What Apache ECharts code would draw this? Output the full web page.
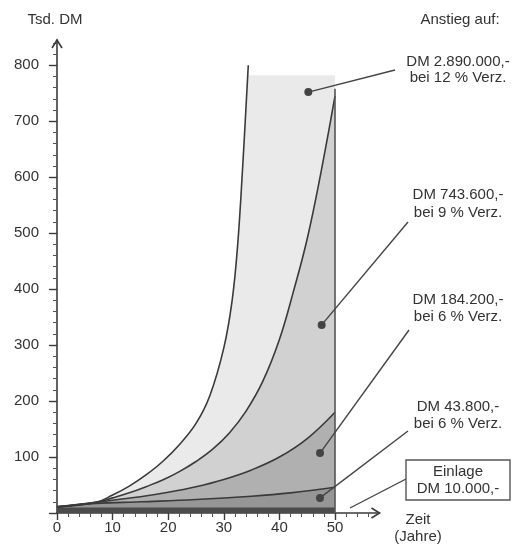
<!DOCTYPE html>
<html><head><meta charset="utf-8">
<script src="https://cdn.jsdelivr.net/npm/echarts@6/dist/echarts.min.js"></script>
<style>html,body{margin:0;padding:0;background:#fff}#c{width:515px;height:545px}</style>
</head><body><div id="c"></div>
<script>
// ---- data (years, Tsd. DM) ----
const years12 = [0, 7, 10, 13, 16, 19, 22, 25, 27.5, 30, 31.5, 32.5, 33.4, 34.4];
const vals12  = [11, 19, 32, 48, 68, 92, 122, 160, 210, 295, 380, 480, 620, 800];
const years9  = [0, 7, 10, 13, 16, 19, 22, 25, 28, 31, 34, 37, 40, 42.5, 45, 47.5, 50];
const vals9   = [11, 19, 27, 36, 47, 59, 74, 92, 114, 143, 182, 235, 310, 395, 490, 610, 745];
const years6  = [0, 7, 11, 15, 20, 25, 30, 35, 40, 45, 50];
const vals6   = [11, 19, 24, 29, 37, 47, 60, 77, 100, 133, 180];
const years3  = [0, 7, 15, 25, 35, 42, 50];
const vals3   = [11, 17, 20, 24, 30, 36, 46];
const yearsBase = [0, 50];
const valsBase  = [10, 10];
const shadeYears = [34.2, 50];
const shadeVals  = [782, 782];
const borderLine = [[50, 0], [50, 758]];
// annotation dots [year, value]
const dots = [[45.2, 752], [47.6, 336], [47.3, 107], [47.3, 27]];
const labelTexts = [
  ['DM 2.890.000,-', 'bei 12 % Verz.'],
  ['DM 743.600,-', 'bei 9 % Verz.'],
  ['DM 184.200,-', 'bei 6 % Verz.'],
  ['DM 43.800,-', 'bei 6 % Verz.']
];
const einlageText = ['Einlage', 'DM 10.000,-'];
const xTickValues = [0, 10, 20, 30, 40, 50];
const yTickValues = [0, 100, 200, 300, 400, 500, 600, 700, 800];
const yLabelValues = [100, 200, 300, 400, 500, 600, 700, 800];
const yTitle = 'Tsd. DM';
const rightTitle = 'Anstieg auf:';
const xTitle = ['Zeit', '(Jahre)'];

const zip = (a, b) => a.map((x, i) => [x, b[i]]);
const FONT = '"Liberation Sans", Arial, sans-serif';
const TXT = '#333';
const LINE = '#3a3a3a';

const chart = echarts.init(document.getElementById('c'));

function areaSeries(data, fill, lineW) {
  return {
    type: 'line', data: data, smooth: 0.4,
    symbol: 'none', silent: true,
    lineStyle: { color: LINE, width: lineW },
    areaStyle: { color: fill, opacity: 1 }
  };
}

const base = areaSeries(zip(yearsBase, valsBase), '#4b4b4b', 0);
base.smooth = false;
base.markLine = {
  silent: true, symbol: ['none', 'none'], animation: false,
  label: { show: false },
  lineStyle: { color: '#555', width: 1.6, type: 'solid' },
  data: [[{ coord: borderLine[0] }, { coord: borderLine[1] }]]
};
const shade = areaSeries(zip(shadeYears, shadeVals), '#eaeaea', 0);
shade.smooth = false;

chart.setOption({
  animation: false,
  backgroundColor: '#fff',
  grid: { left: 57, width: 322.5, bottom: 32, height: 473, containLabel: false },
  xAxis: {
    type: 'value', min: 0, max: 58, interval: 10,
    axisLine: { lineStyle: { color: LINE, width: 1.6 } },
    axisTick: { length: 7, customValues: xTickValues, lineStyle: { color: LINE, width: 1.4 } },
    minorTick: { show: true, splitNumber: 5, length: 4, lineStyle: { color: '#555', width: 1 } },
    axisLabel: { customValues: xTickValues, margin: 7, fontSize: 15, fontFamily: FONT, color: TXT },
    splitLine: { show: false }
  },
  yAxis: {
    type: 'value', min: 0, max: 845, interval: 100,
    axisLine: { lineStyle: { color: LINE, width: 1.6 } },
    axisTick: { length: 8, customValues: yTickValues, lineStyle: { color: LINE, width: 1.4 } },
    minorTick: { show: true, splitNumber: 5, length: 4, lineStyle: { color: '#555', width: 1 } },
    axisLabel: { customValues: yLabelValues, margin: 18, fontSize: 15, fontFamily: FONT, color: TXT },
    splitLine: { show: false }
  },
  series: [
    shade,
    areaSeries(zip(years12, vals12), '#eaeaea', 1.6),
    areaSeries(zip(years9, vals9), '#d1d1d1', 1.6),
    areaSeries(zip(years6, vals6), '#b0b0b0', 1.6),
    areaSeries(zip(years3, vals3), '#969696', 1.6),
    base,
    {
      type: 'scatter', data: dots, symbol: 'circle', symbolSize: 8, silent: true, z: 20,
      clip: false,
      itemStyle: { color: '#444', opacity: 1 }
    }
  ]
});

// ---- annotations (layout in pixels) ----
const px = p => chart.convertToPixel({ gridIndex: 0 }, p);
const labelCenterX = 458;
const labelRowsY = [[62, 78], [195, 213], [300, 317], [407, 424]];
const leaderEnds = [[395, 70], [408, 222], [409, 330], [408, 431]];
const g = [];
function text(t, x, y) {
  return { type: 'text', x: x, y: y, silent: true, z: 100,
    style: { text: t, font: '15px ' + FONT, fill: TXT, align: 'center', verticalAlign: 'middle',
             textAlign: 'center', textVerticalAlign: 'middle' } };
}
function line(x1, y1, x2, y2, w) {
  return { type: 'line', silent: true, z: 90, shape: { x1, y1, x2, y2 },
    style: { stroke: '#444', lineWidth: w || 1.4 } };
}
g.push(text(yTitle, 55, 20));
g.push(text(rightTitle, 460, 20));
labelTexts.forEach((pair, i) => {
  g.push(text(pair[0], labelCenterX, labelRowsY[i][0]));
  g.push(text(pair[1], labelCenterX, labelRowsY[i][1]));
  const d = px(dots[i]);
  g.push(line(d[0], d[1], leaderEnds[i][0], leaderEnds[i][1]));
});
// Einlage box
g.push({ type: 'rect', silent: true, z: 95, shape: { x: 406, y: 460, width: 104, height: 40 },
  style: { fill: '#fff', stroke: '#555', lineWidth: 1.4 } });
g.push(text(einlageText[0], 458, 472));
g.push(text(einlageText[1], 458, 489));
g.push(line(406, 479, 350, 508));
// axis titles
g.push(text(xTitle[0], 418, 520));
g.push(text(xTitle[1], 418, 537));
// open arrow heads
const yTop = px([0, 845]);
const xEnd = px([58, 0]);
g.push({ type: 'polyline', silent: true, z: 90,
  shape: { points: [[yTop[0] - 5, yTop[1] + 8], [yTop[0], yTop[1]], [yTop[0] + 5, yTop[1] + 8]] },
  style: { stroke: LINE, lineWidth: 1.6, fill: null } });
g.push({ type: 'polyline', silent: true, z: 90,
  shape: { points: [[xEnd[0] - 8, xEnd[1] - 5], [xEnd[0], xEnd[1]], [xEnd[0] - 8, xEnd[1] + 5]] },
  style: { stroke: LINE, lineWidth: 1.6, fill: null } });
chart.setOption({ graphic: g });
</script>
</body></html>
